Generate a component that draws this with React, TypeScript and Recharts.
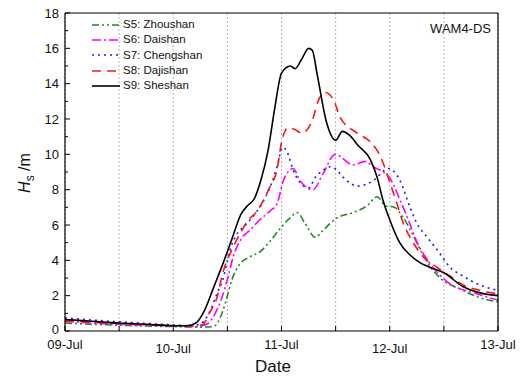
import { LineChart, Line, XAxis, YAxis, CartesianGrid, Legend, Label } from 'recharts';

// hours since 09-Jul 00:00
const s5Time = [0, 6, 12, 18, 24, 30, 32.9, 34.8, 35.9, 37, 38.8, 41, 43.3, 45.5, 47.7, 49.9, 51.5, 53.2, 55.5, 57.2, 60.3, 63.9, 67, 69.2, 71, 73, 74.8, 77, 79.2, 81.4, 83.6, 87.4, 91.8, 96];
const s5Hs = [0.45, 0.38, 0.33, 0.28, 0.25, 0.22, 0.25, 1.0, 1.9, 2.9, 3.8, 4.2, 4.5, 5.1, 5.8, 6.4, 6.7, 6.1, 5.3, 5.7, 6.4, 6.7, 7.1, 7.6, 7.1, 7.0, 6.5, 5.5, 4.4, 3.5, 2.9, 2.4, 1.9, 1.65];

const s6Time = [0, 6, 12, 18, 24, 29, 31.5, 33.3, 34.8, 36.2, 37.3, 39.3, 41, 42.8, 45.5, 47, 48.4, 50.6, 52.1, 55, 57.2, 59.9, 63.9, 66.5, 68.3, 71.9, 74.3, 76.1, 78.1, 81, 84.7, 91.4, 96];
const s6Hs = [0.55, 0.45, 0.38, 0.33, 0.28, 0.25, 0.4, 1.0, 1.9, 3.1, 4.2, 5.3, 5.7, 6.2, 6.8, 7.2, 8.5, 9.2, 8.5, 8.0, 8.9, 10.0, 9.4, 9.6, 9.3, 8.7, 7.4, 6.3, 5.0, 3.8, 2.8, 2.1, 1.75];

const s7Time = [0, 6, 12, 18, 24, 28, 30, 31.7, 34, 35, 36.6, 37.7, 40.4, 42.6, 44.5, 46, 47, 48.3, 49.3, 50.6, 52.1, 54, 55.5, 57.2, 58.8, 60.3, 61.7, 65, 68.3, 71.7, 74.3, 76.5, 78, 80.3, 82.5, 85.4, 88.3, 92, 96];
const s7Hs = [0.75, 0.62, 0.52, 0.43, 0.35, 0.3, 0.4, 0.9, 2.3, 2.9, 4.6, 5.3, 6.1, 6.8, 7.6, 8.5, 9.3, 10.4, 10.1, 9.1, 8.4, 8.1, 8.7, 9.1, 9.3, 9.1, 8.7, 8.2, 8.5, 9.2, 8.5, 7.0, 6.1, 5.3, 4.6, 3.6, 3.1, 2.6, 2.3];

const s8Time = [0, 6, 12, 18, 24, 28, 30.5, 32, 33.7, 35, 37, 38.8, 40.4, 42.6, 44, 45.5, 47, 48.1, 49.5, 51, 52.5, 54.8, 56.1, 57.7, 59.5, 61, 64.8, 67.7, 69.9, 71.9, 73.6, 75, 77.2, 79.4, 82.5, 85.4, 88.3, 92, 96];
const s8Hs = [0.6, 0.5, 0.42, 0.36, 0.3, 0.28, 0.35, 1.0, 1.9, 3.3, 4.6, 5.5, 6.2, 6.8, 7.4, 8.2, 9.1, 10.8, 11.5, 11.4, 11.2, 11.9, 13.0, 13.5, 13.1, 12.1, 11.2, 10.7, 9.9, 8.5, 7.2, 6.1, 5.0, 4.2, 3.6, 3.1, 2.6, 2.3, 2.1];

const s9Time = [0, 6, 12, 18, 24, 27, 29, 31, 33, 35, 37, 39, 40.5, 42, 43.5, 45, 46.5, 48, 50, 51, 52.5, 54, 54.8, 56, 58, 60, 61.5, 63, 65, 67.7, 69.2, 70.5, 72, 74.2, 76.5, 78.5, 81, 84, 88.3, 91.4, 96];
const s9Hs = [0.65, 0.55, 0.45, 0.38, 0.3, 0.3, 0.45, 1.2, 2.5, 3.8, 5.2, 6.6, 7.1, 7.5, 8.6, 10.2, 12.6, 14.6, 15.0, 14.85, 15.4, 16.0, 15.9, 14.4, 11.8, 10.8, 11.3, 11.1, 10.5, 9.7, 8.7, 7.4, 6.3, 5.0, 4.3, 3.9, 3.6, 3.3, 2.5, 2.2, 2.0];

const dayLabels = ['09-Jul', '10-Jul', '11-Jul', '12-Jul', '13-Jul'];
const xTicks = [0, 12, 24, 36, 48, 60, 72, 84, 96];
const yTicks = [0, 1, 2, 3, 4, 5, 6, 7, 8, 9, 10, 11, 12, 13, 14, 15, 16, 17, 18];

const series = [
    { key: 's5', name: 'S5: Zhoushan', time: s5Time, hs: s5Hs, color: '#1e8c1e', dash: '7 3 2 3 2 3' },
    { key: 's6', name: 'S6: Daishan', time: s6Time, hs: s6Hs, color: '#ff00ff', dash: '9 3 2 3' },
    { key: 's7', name: 'S7: Chengshan', time: s7Time, hs: s7Hs, color: '#1a1aff', dash: '2 4' },
    { key: 's8', name: 'S8: Dajishan', time: s8Time, hs: s8Hs, color: '#ff1414', dash: '9 6' },
    { key: 's9', name: 'S9: Sheshan', time: s9Time, hs: s9Hs, color: '#000000', dash: undefined },
];

// merge all series into one table keyed by time
const allTimes = Array.from(new Set(series.flatMap((s) => s.time))).sort((a, b) => a - b);
const data = allTimes.map((t) => {
    const row: Record<string, number> = { t };
    series.forEach((s) => {
        const i = s.time.indexOf(t);
        if (i >= 0) row[s.key] = s.hs[i];
    });
    return row;
});

const font = 'Arial, "Liberation Sans", sans-serif';

const XTick = (props: any) => {
    const { x, y, payload } = props;
    const t = payload.value;
    const day = t / 24;
    const isDay = t % 24 === 0;
    return (
        <g>
            <line x1={x} y1={y} x2={x} y2={y - 5} stroke="#000" strokeWidth={1} />
            {isDay && (
                <text x={x} y={y + (day % 2 === 1 ? 22 : 18)} textAnchor="middle" fontSize={13} fontFamily={font} fill="#111">
                    {dayLabels[day]}
                </text>
            )}
        </g>
    );
};

const YTick = (props: any) => {
    const { x, y, payload } = props;
    const v = payload.value;
    const major = v % 2 === 0;
    return (
        <g>
            <line x1={x} y1={y} x2={x + (major ? 5 : 3)} y2={y} stroke="#000" strokeWidth={1} />
            {major && (
                <text x={x - 6} y={y + (v === 0 ? 3 : 4.5)} textAnchor="end" fontSize={13} fontFamily={font} fill="#111">
                    {v}
                </text>
            )}
        </g>
    );
};

const LegendBox = () => (
    <div style={{ fontFamily: font, fontSize: 11.5, color: '#111', lineHeight: '15.3px' }}>
        {series.map((s) => (
            <div key={s.key} style={{ display: 'flex', alignItems: 'center', height: 15.3 }}>
                <svg width={31} height={8}>
                    <line x1={0} y1={4} x2={28} y2={4} stroke={s.color} strokeWidth={1.6} strokeDasharray={s.dash} />
                </svg>
                <span>{s.name}</span>
            </div>
        ))}
    </div>
);

export default function App() {
    return (
        <div style={{ position: 'fixed', left: 0, top: 0, width: 522, height: 376, background: '#fff' }}>
            <LineChart width={522} height={376} data={data} margin={{ top: 12, right: 23, bottom: 0, left: 0 }}>
                <CartesianGrid horizontal={false} stroke="#b5b5b5" strokeDasharray="2 2" />
                <XAxis
                    dataKey="t"
                    type="number"
                    domain={[0, 96]}
                    ticks={xTicks}
                    interval={0}
                    height={45}
                    tickSize={0}
                    tickMargin={0}
                    tick={<XTick />}
                    axisLine={{ stroke: '#000', strokeWidth: 1.2 }}
                    tickLine={false}
                >
                    <Label
                        content={() => (
                            <text x={273} y={372} textAnchor="middle" fontSize={17} fontFamily={font} fill="#111">
                                Date
                            </text>
                        )}
                    />
                </XAxis>
                <XAxis
                    xAxisId="top"
                    orientation="top"
                    type="number"
                    domain={[0, 96]}
                    height={1}
                    tick={false}
                    tickLine={false}
                    axisLine={{ stroke: '#000', strokeWidth: 1.2 }}
                >
                    <Label
                        content={() => (
                            <text x={491} y={33} textAnchor="end" fontSize={13} fontFamily={font} fill="#111">
                                WAM4-DS
                            </text>
                        )}
                    />
                </XAxis>
                <YAxis
                    type="number"
                    domain={[0, 18]}
                    ticks={yTicks}
                    interval={0}
                    width={65}
                    tickSize={0}
                    tickMargin={0}
                    tick={<YTick />}
                    tickLine={false}
                    axisLine={{ stroke: '#000', strokeWidth: 1.2 }}
                >
                    <Label
                        content={() => (
                            <text x={30} y={173} transform="rotate(-90 30 173)" textAnchor="middle" fontSize={16} fontFamily={font} fill="#111">
                                <tspan fontStyle="italic">H</tspan>
                                <tspan fontSize={12} dy={4}>s</tspan>
                                <tspan dy={-4}> /m</tspan>
                            </text>
                        )}
                    />
                </YAxis>
                <YAxis
                    yAxisId="right"
                    orientation="right"
                    type="number"
                    domain={[0, 18]}
                    width={1}
                    tick={false}
                    tickLine={false}
                    axisLine={{ stroke: '#000', strokeWidth: 1.2 }}
                />
                <Legend
                    layout="vertical"
                    verticalAlign="middle"
                    align="center"
                    content={<LegendBox />}
                    wrapperStyle={{ left: 92, top: 17, width: 'auto', height: 'auto' }}
                />
                {series.map((s) => (
                    <Line
                        key={s.key}
                        dataKey={s.key}
                        name={s.name}
                        type="monotone"
                        stroke={s.color}
                        strokeWidth={1.6}
                        strokeDasharray={s.dash}
                        dot={false}
                        connectNulls
                        isAnimationActive={false}
                    />
                ))}
            </LineChart>
        </div>
    );
}
